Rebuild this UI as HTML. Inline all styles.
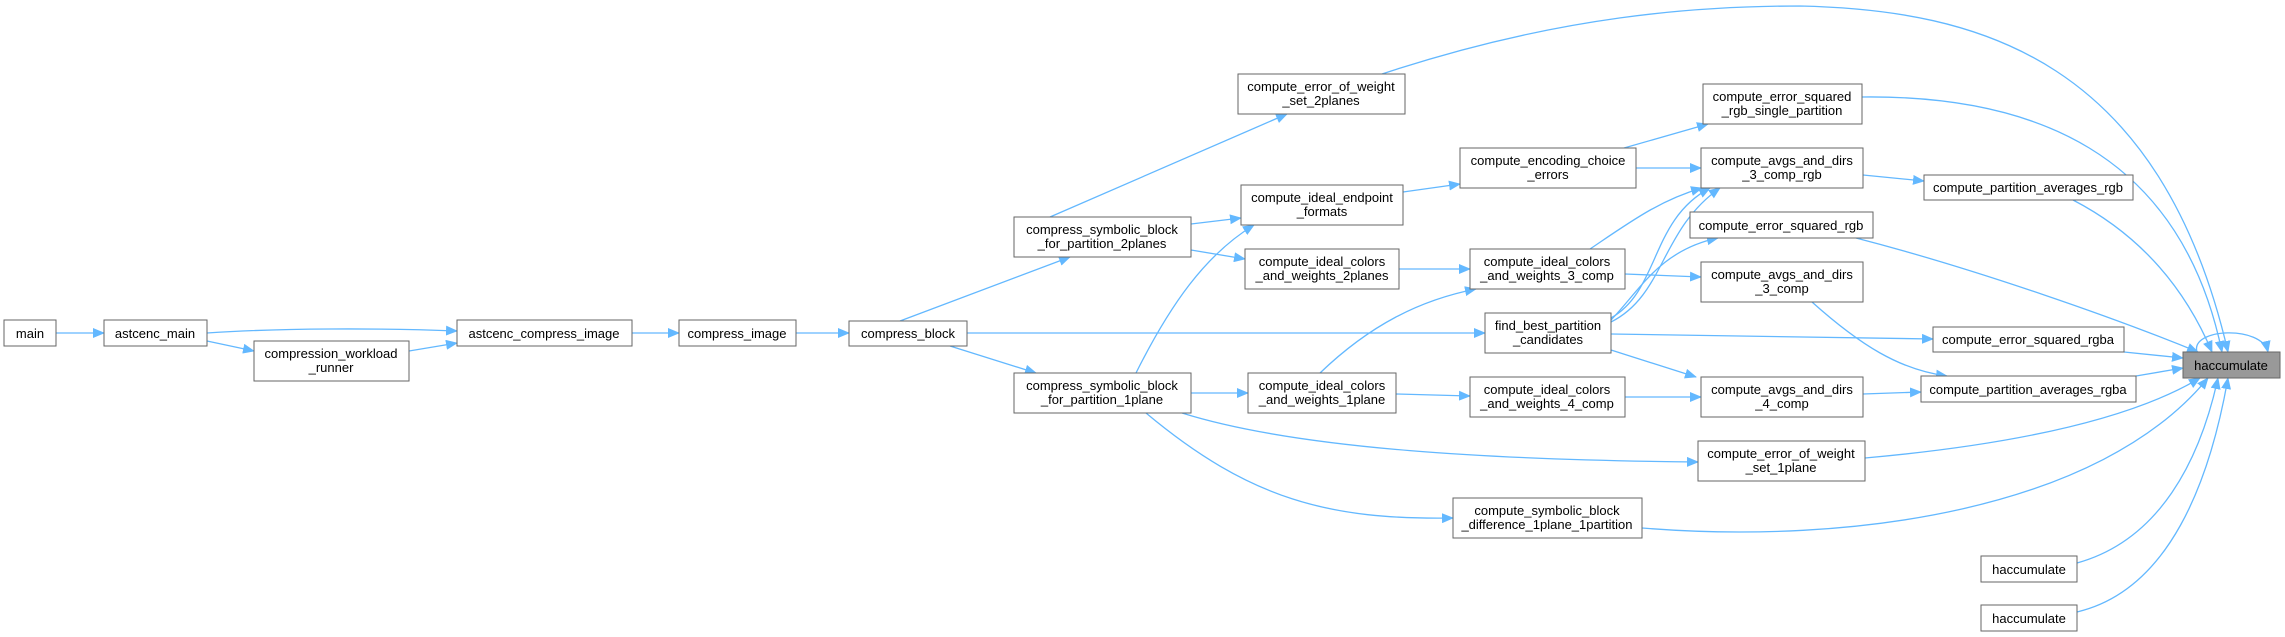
<!DOCTYPE html>
<html><head><meta charset="utf-8"><style>
html,body{margin:0;padding:0;background:#fff;}
svg{display:block;}
text{font-family:"Liberation Sans",sans-serif;font-size:13px;fill:#000;text-anchor:middle;}
rect{fill:#fff;stroke:#666;stroke-width:1;}
path{fill:none;stroke:#63b8ff;stroke-width:1.3;}
</style></head><body>
<svg width="2285" height="637" viewBox="0 0 2285 637" xmlns="http://www.w3.org/2000/svg">
<defs>
<marker id="a" markerWidth="12" markerHeight="10" refX="11" refY="5" orient="auto" markerUnits="userSpaceOnUse">
<polygon points="0,0 12,5 0,10" fill="#63b8ff"/>
</marker>
</defs>
<g marker-end="url(#a)">
<path d="M56,333 L104,333"/>
<path d="M207,333 C280,328 380,328 457,331"/>
<path d="M207,341 L254,351"/>
<path d="M409,351 L457,343"/>
<path d="M632,333 L679,333"/>
<path d="M796,333 L849,333"/>
<path d="M900,321 L1070,257"/>
<path d="M967,333 L1485,333"/>
<path d="M950,346 L1036,373"/>
<path d="M1050,217 L1287,114"/>
<path d="M1191,224 L1241,218"/>
<path d="M1191,250 L1245,259"/>
<path d="M1136,373 C1170,305 1205,255 1254,225"/>
<path d="M1191,393 L1248,393"/>
<path d="M1182,413 C1300,450 1500,460 1698,462"/>
<path d="M1146,413 C1250,500 1330,520 1453,518"/>
<path d="M1403,192 L1460,184"/>
<path d="M1624,148 L1708,124"/>
<path d="M1636,168 L1701,168"/>
<path d="M1399,269 L1470,269"/>
<path d="M1590,249 C1630,222 1660,200 1702,188"/>
<path d="M1625,274 L1701,277"/>
<path d="M1396,394 L1470,396"/>
<path d="M1320,373 C1370,325 1420,300 1476,289"/>
<path d="M1625,397 L1701,397"/>
<path d="M1611,318 C1660,290 1650,220 1710,188"/>
<path d="M1611,322 C1665,295 1660,230 1720,188"/>
<path d="M1611,320 C1640,290 1660,250 1718,238"/>
<path d="M1611,334 L1933,339"/>
<path d="M1611,350 L1696,377"/>
<path d="M1863,175 L1924,181"/>
<path d="M1812,302 C1860,345 1900,370 1947,376"/>
<path d="M1863,394 L1921,392"/>
<path d="M1382,74 C1560,15 1700,6 1800,6 C1980,10 2160,60 2228,352"/>
<path d="M1862,97 C2030,95 2180,150 2222,352"/>
<path d="M2073,200 C2150,240 2190,300 2212,352"/>
<path d="M1856,238 C1980,270 2120,320 2198,352"/>
<path d="M2124,352 L2183,358"/>
<path d="M2136,376 L2183,368"/>
<path d="M1865,458 C2010,445 2130,420 2200,378"/>
<path d="M1642,528 C1850,545 2100,510 2208,378"/>
<path d="M2077,563 C2160,540 2200,460 2218,378"/>
<path d="M2077,612 C2170,590 2210,480 2228,378"/>
<path d="M2197,352 C2190,328 2262,325 2268,352"/>
</g>
<rect x="4" y="320" width="52" height="26"/><text x="30" y="338">main</text>
<rect x="104" y="320" width="103" height="26"/><text x="155" y="338">astcenc_main</text>
<rect x="254" y="341" width="155" height="40"/><text x="331" y="358">compression_workload</text><text x="331" y="372">_runner</text>
<rect x="457" y="320" width="175" height="26"/><text x="544" y="338">astcenc_compress_image</text>
<rect x="679" y="320" width="117" height="26"/><text x="737" y="338">compress_image</text>
<rect x="849" y="321" width="118" height="25"/><text x="908" y="338">compress_block</text>
<rect x="1014" y="217" width="177" height="40"/><text x="1102" y="234">compress_symbolic_block</text><text x="1102" y="248">_for_partition_2planes</text>
<rect x="1014" y="373" width="177" height="40"/><text x="1102" y="390">compress_symbolic_block</text><text x="1102" y="404">_for_partition_1plane</text>
<rect x="1238" y="74" width="167" height="40"/><text x="1321" y="91">compute_error_of_weight</text><text x="1321" y="105">_set_2planes</text>
<rect x="1241" y="185" width="162" height="40"/><text x="1322" y="202">compute_ideal_endpoint</text><text x="1322" y="216">_formats</text>
<rect x="1245" y="249" width="154" height="40"/><text x="1322" y="266">compute_ideal_colors</text><text x="1322" y="280">_and_weights_2planes</text>
<rect x="1248" y="373" width="148" height="40"/><text x="1322" y="390">compute_ideal_colors</text><text x="1322" y="404">_and_weights_1plane</text>
<rect x="1460" y="148" width="176" height="40"/><text x="1548" y="165">compute_encoding_choice</text><text x="1548" y="179">_errors</text>
<rect x="1470" y="249" width="155" height="40"/><text x="1547" y="266">compute_ideal_colors</text><text x="1547" y="280">_and_weights_3_comp</text>
<rect x="1485" y="313" width="126" height="40"/><text x="1548" y="330">find_best_partition</text><text x="1548" y="344">_candidates</text>
<rect x="1470" y="377" width="155" height="40"/><text x="1547" y="394">compute_ideal_colors</text><text x="1547" y="408">_and_weights_4_comp</text>
<rect x="1453" y="498" width="189" height="40"/><text x="1547" y="515">compute_symbolic_block</text><text x="1547" y="529">_difference_1plane_1partition</text>
<rect x="1703" y="84" width="159" height="40"/><text x="1782" y="101">compute_error_squared</text><text x="1782" y="115">_rgb_single_partition</text>
<rect x="1701" y="148" width="162" height="40"/><text x="1782" y="165">compute_avgs_and_dirs</text><text x="1782" y="179">_3_comp_rgb</text>
<rect x="1690" y="212" width="183" height="26"/><text x="1781" y="230">compute_error_squared_rgb</text>
<rect x="1701" y="262" width="162" height="40"/><text x="1782" y="279">compute_avgs_and_dirs</text><text x="1782" y="293">_3_comp</text>
<rect x="1701" y="377" width="162" height="40"/><text x="1782" y="394">compute_avgs_and_dirs</text><text x="1782" y="408">_4_comp</text>
<rect x="1698" y="441" width="167" height="40"/><text x="1781" y="458">compute_error_of_weight</text><text x="1781" y="472">_set_1plane</text>
<rect x="1924" y="175" width="209" height="25"/><text x="2028" y="192">compute_partition_averages_rgb</text>
<rect x="1933" y="327" width="191" height="25"/><text x="2028" y="344">compute_error_squared_rgba</text>
<rect x="1921" y="376" width="215" height="26"/><text x="2028" y="394">compute_partition_averages_rgba</text>
<rect x="2183" y="352" width="97" height="26" style="fill:#999;stroke:#666"/><text x="2231" y="370">haccumulate</text>
<rect x="1981" y="556" width="96" height="26"/><text x="2029" y="574">haccumulate</text>
<rect x="1981" y="605" width="96" height="26"/><text x="2029" y="623">haccumulate</text>
</svg>
</body></html>
